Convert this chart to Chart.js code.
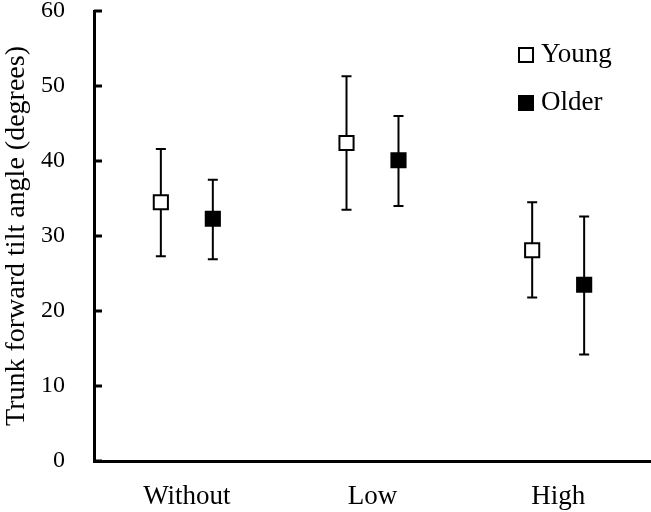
<!DOCTYPE html>
<html>
<head>
<meta charset="utf-8">
<script src="https://cdn.jsdelivr.net/npm/chart.js@4"></script>
<style>
  html, body { margin: 0; padding: 0; background: #fff; }
  #wrap { width: 651px; height: 512px; }
</style>
</head>
<body>
<div id="wrap"><canvas id="chart" width="651" height="512"></canvas></div>
<script>
'use strict';

// data
const categories = ['Without', 'Low', 'High'];
const youngMean  = [34.5, 42.4, 28.1];
const youngHigh  = [41.6, 51.3, 34.5];
const youngLow   = [27.3, 33.5, 21.8];
const olderMean  = [32.3, 40.1, 23.5];
const olderHigh  = [37.5, 46.0, 32.6];
const olderLow   = [26.9, 34.0, 14.2];
const yTicks     = [0, 10, 20, 30, 40, 50, 60];

const FONT = "'Liberation Serif', 'Times New Roman', serif";
const GROUP_SHIFT = 0.14;

const toPoints = (vals, shift) => vals.map((v, i) => ({ x: i + 0.5 + shift, y: v }));

// error bars, drawn under the markers
const errorBars = {
  id: 'errorBars',
  beforeDatasetsDraw(chart) {
    const { ctx, scales: { x, y } } = chart;
    ctx.save();
    ctx.strokeStyle = '#000';
    ctx.lineWidth = 2;
    chart.data.datasets.forEach(ds => {
      ds.data.forEach((p, i) => {
        const px = x.getPixelForValue(p.x);
        const top = y.getPixelForValue(ds.errHigh[i]);
        const bot = y.getPixelForValue(ds.errLow[i]);
        ctx.beginPath();
        ctx.moveTo(px, top); ctx.lineTo(px, bot);
        ctx.moveTo(px - 5, top); ctx.lineTo(px + 5, top);
        ctx.moveTo(px - 5, bot); ctx.lineTo(px + 5, bot);
        ctx.stroke();
      });
    });
    ctx.restore();
  }
};

// inward tick marks on the y axis
const innerTicks = {
  id: 'innerTicks',
  afterDraw(chart) {
    const { ctx, scales: { y }, chartArea } = chart;
    ctx.save();
    ctx.strokeStyle = '#000';
    ctx.lineWidth = 3;
    y.ticks.forEach(t => {
      const py = y.getPixelForValue(t.value);
      ctx.beginPath();
      ctx.moveTo(chartArea.left, py);
      ctx.lineTo(chartArea.left + 8, py);
      ctx.stroke();
    });
    ctx.restore();
  }
};

// legend in the upper right corner
const boxLegend = {
  id: 'boxLegend',
  afterDraw(chart) {
    const { ctx } = chart;
    ctx.save();
    ctx.font = '27px ' + FONT;
    ctx.textBaseline = 'alphabetic';
    chart.data.datasets.forEach((ds, i) => {
      const cy = 55 + i * 48;
      ctx.fillStyle = ds.pointBackgroundColor;
      ctx.strokeStyle = '#000';
      ctx.lineWidth = 2;
      ctx.fillRect(519, cy - 7, 14, 14);
      ctx.strokeRect(519, cy - 7, 14, 14);
      ctx.fillStyle = '#000';
      ctx.fillText(ds.label, 541, cy + 7);
    });
    ctx.restore();
  }
};

new Chart(document.getElementById('chart'), {
  type: 'scatter',
  data: {
    datasets: [
      {
        label: 'Young',
        data: toPoints(youngMean, -GROUP_SHIFT),
        errHigh: youngHigh,
        errLow: youngLow,
        pointStyle: 'rect',
        pointRadius: 10,
        pointBorderWidth: 2,
        pointBorderColor: '#000',
        pointBackgroundColor: '#fff'
      },
      {
        label: 'Older',
        data: toPoints(olderMean, GROUP_SHIFT),
        errHigh: olderHigh,
        errLow: olderLow,
        pointStyle: 'rect',
        pointRadius: 10,
        pointBorderWidth: 2,
        pointBorderColor: '#000',
        pointBackgroundColor: '#000'
      }
    ]
  },
  options: {
    responsive: false,
    animation: false,
    layout: { autoPadding: false, padding: { top: 11, right: 0, left: 0, bottom: 0 } },
    plugins: {
      legend: { display: false },
      tooltip: { enabled: false }
    },
    scales: {
      x: {
        type: 'linear',
        min: 0,
        max: categories.length,
        afterBuildTicks: s => { s.ticks = categories.map((c, i) => ({ value: i + 0.5 })); },
        afterFit: s => { s.height = 51; s.paddingLeft = 0; s.paddingRight = 0; },
        grid: { display: false, drawTicks: false },
        border: { display: true, color: '#000', width: 3 },
        ticks: {
          color: '#000',
          font: { family: FONT, size: 27 },
          padding: 20,
          maxRotation: 0,
          callback: (v, i) => categories[i]
        }
      },
      y: {
        min: 0,
        max: 60,
        afterBuildTicks: s => { s.ticks = yTicks.map(v => ({ value: v })); },
        // tick padding otherwise leaks into the top margin
        afterFit: s => { s.width = 94; s.paddingTop = 0; s.paddingBottom = 0; },
        grid: { display: false, drawTicks: false },
        border: { display: true, color: '#000', width: 3 },
        ticks: {
          color: '#000',
          font: { family: FONT, size: 24 },
          padding: 29
        },
        title: {
          display: true,
          text: 'Trunk forward tilt angle (degrees)',
          color: '#000',
          font: { family: FONT, size: 28 },
          padding: 0
        }
      }
    }
  },
  plugins: [errorBars, innerTicks, boxLegend]
});
</script>
</body>
</html>
